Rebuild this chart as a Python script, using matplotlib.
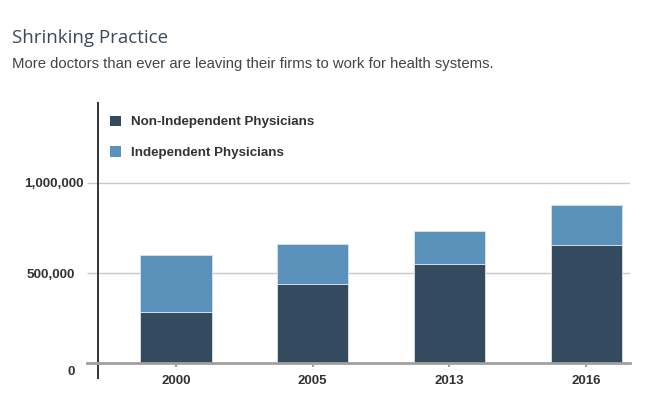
import matplotlib.pyplot as plt
from matplotlib.patches import Patch
from matplotlib.transforms import ScaledTranslation
from matplotlib.ticker import FuncFormatter

years = ["2000", "2005", "2013", "2016"]
non_independent = [282000, 440000, 552000, 656000]
independent = [316000, 221000, 183000, 220000]
ytick_values = [0, 500000, 1000000]

dark = "#344a5e"
light = "#5b92bc"
text_col = "#333333"

plt.rcParams['font.family'] = ['Liberation Sans', 'DejaVu Sans']
plt.rcParams['font.weight'] = 'bold'

px = 72 / 100  # points per pixel

fig = plt.figure(figsize=(6.5, 4.11), dpi=100)
ax = fig.add_axes([98 / 650, 33 / 411, 532 / 650, 275 / 411])

x = range(len(years))
ax.bar(x, non_independent, width=0.52, color=dark, edgecolor="#dde3ea", linewidth=0.6, zorder=3)
ax.bar(x, independent, bottom=non_independent, width=0.52, color=light,
       edgecolor="#dde3ea", linewidth=0.6, zorder=3)

ax.set_xlim(-0.57, 3.32)
ax.set_ylim(-83000, 1444000)

ax.set_yticks(ytick_values)
ax.yaxis.set_major_formatter(FuncFormatter(lambda v, p: f"{int(v):,}"))
for v in ytick_values[1:]:
    ax.axhline(v, color="#c9c9c9", linewidth=1, zorder=1)
ax.tick_params(axis='y', length=11 * px, color="#c9c9c9", width=1, pad=3 * px,
               labelsize=9.7, labelcolor=text_col)

ax.set_xticks(list(x))
ax.set_xticklabels(years)
ax.tick_params(axis='x', length=4 * px, color="#a0a0a0", width=1.5, pad=8 * px,
               labelsize=9.5, labelcolor=text_col)

ax.spines['bottom'].set_position(('data', 0))
ax.spines['bottom'].set_color("#a0a0a0")
ax.spines['bottom'].set_linewidth(2)
ax.spines['bottom'].set_zorder(4)
ax.spines['left'].set_color("#333333")
ax.spines['left'].set_linewidth(1.4)
ax.spines['top'].set_visible(False)
ax.spines['right'].set_visible(False)

# baseline extension to the left of the y axis
ax.plot([-0.57 - 11 / 136.7, -0.57], [0, 0], color="#a0a0a0", linewidth=2, clip_on=False, zorder=4)

fig.canvas.draw()
ylbls = ax.get_yticklabels()
ylbls[0].set_transform(ylbls[0].get_transform() + ScaledTranslation(-9 / 100, -7 / 100, fig.dpi_scale_trans))
ylbls[1].set_transform(ylbls[1].get_transform() + ScaledTranslation(-9 / 100, 0, fig.dpi_scale_trans))

handles = [Patch(facecolor=dark, label="Non-Independent Physicians"),
           Patch(facecolor=light, label="Independent Physicians")]
ax.legend(handles=handles, loc='upper left', bbox_to_anchor=(0.0, 0.998), frameon=False,
          handlelength=0.85, handleheight=0.85, handletextpad=0.7, labelspacing=1.35,
          prop={'weight': 'bold', 'size': 9.6}, labelcolor=text_col)

fig.text(12 / 650, 1 - 38 / 411, "Shrinking Practice", fontsize=13.5, color="#3a4b5c",
         family=['Open Sans', 'DejaVu Sans'], weight='normal', va='center', ha='left')
fig.text(12 / 650, 1 - 64 / 411, "More doctors than ever are leaving their firms to work for health systems.",
         fontsize=10.7, color="#444444", weight='normal', va='center', ha='left')

fig.savefig("out.png", dpi=100)
